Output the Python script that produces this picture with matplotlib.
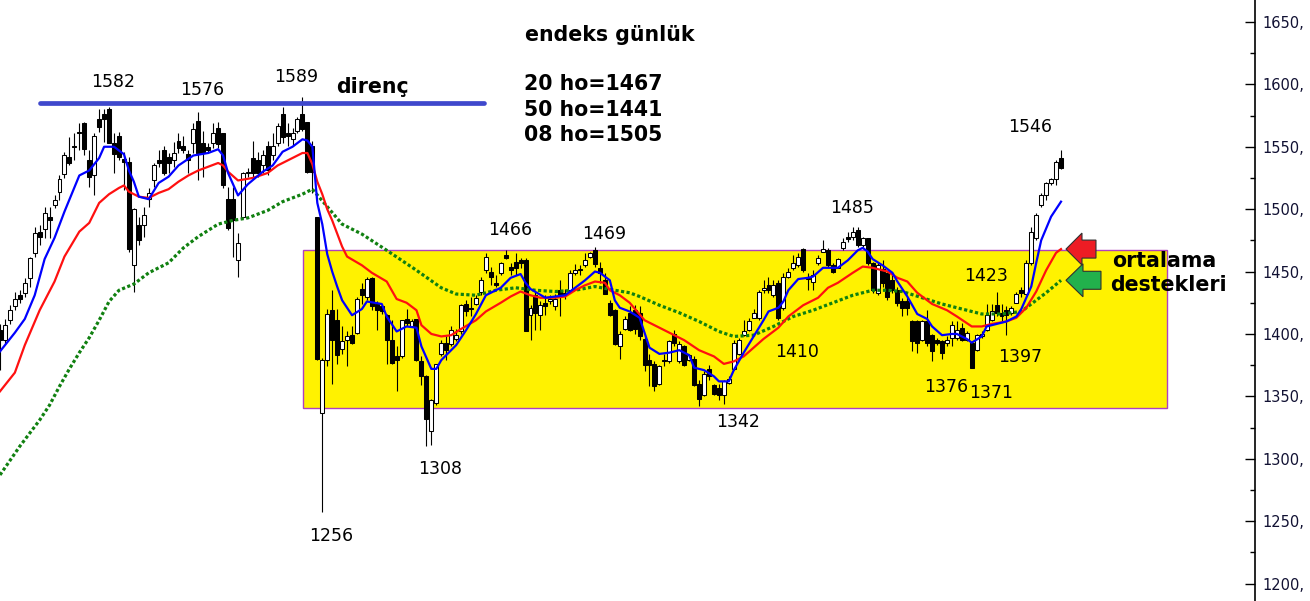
import numpy as np
import matplotlib
matplotlib.use("Agg")
import matplotlib.pyplot as plt
from matplotlib.patches import Rectangle, Polygon
from matplotlib.ticker import MultipleLocator, FuncFormatter
from matplotlib.transforms import Affine2D, ScaledTranslation

plt.rcParams["font.family"] = "DejaVu Sans"

# daily candles
opens = [1403, 1395, 1411, 1422, 1431, 1433, 1445, 1465, 1482, 1484,
         1494, 1503, 1514, 1528, 1542, 1551, 1562, 1569, 1539, 1527,
         1572, 1576, 1580, 1553, 1559, 1540, 1538, 1455, 1487, 1487,
         1508, 1523, 1539, 1547, 1542, 1539, 1555, 1551, 1544, 1553,
         1571, 1553, 1550, 1553, 1565, 1561, 1508, 1508, 1459, 1494,
         1529, 1541, 1539, 1535, 1551, 1543, 1553, 1576, 1561, 1556,
         1563, 1576, 1570, 1551, 1494, 1337, 1379, 1419, 1411, 1388,
         1395, 1399, 1401, 1436, 1430, 1445, 1424, 1422, 1415, 1395,
         1382, 1382, 1412, 1406, 1412, 1378, 1366, 1322, 1345, 1384,
         1393, 1392, 1396, 1402, 1424, 1421, 1424, 1434, 1451, 1450,
         1441, 1449, 1463, 1454, 1458, 1459, 1459, 1415, 1431, 1415,
         1425, 1426, 1422, 1435, 1433, 1435, 1449, 1452, 1455, 1462,
         1467, 1453, 1443, 1425, 1419, 1390, 1404, 1417, 1419, 1417,
         1396, 1379, 1376, 1360, 1379, 1378, 1400, 1378, 1390, 1379,
         1380, 1360, 1351, 1372, 1359, 1357, 1351, 1361, 1372, 1384,
         1399, 1403, 1413, 1413, 1435, 1439, 1431, 1441, 1421, 1446,
         1453, 1455, 1468, 1445, 1442, 1457, 1466, 1467, 1455, 1453,
         1469, 1478, 1478, 1483, 1471, 1477, 1457, 1433, 1452, 1449,
         1443, 1435, 1426, 1426, 1410, 1410, 1395, 1410, 1399, 1395,
         1394, 1393, 1397, 1397, 1405, 1395, 1393, 1387, 1398, 1403,
         1411, 1423, 1417, 1419, 1417, 1425, 1435, 1432, 1457, 1477,
         1503, 1511, 1521, 1524, 1541]
highs = [1408, 1412, 1423, 1434, 1435, 1445, 1462, 1486, 1487, 1502,
         1502, 1511, 1527, 1546, 1558, 1561, 1569, 1570, 1547, 1561,
         1580, 1580, 1582, 1561, 1562, 1546, 1542, 1501, 1494, 1502,
         1517, 1537, 1547, 1551, 1545, 1554, 1561, 1559, 1547, 1569,
         1578, 1563, 1553, 1569, 1570, 1561, 1518, 1518, 1481, 1530,
         1533, 1555, 1546, 1547, 1555, 1561, 1569, 1582, 1569, 1565,
         1574, 1590, 1570, 1555, 1494, 1381, 1420, 1435, 1420, 1406,
         1402, 1406, 1430, 1441, 1446, 1446, 1426, 1424, 1416, 1411,
         1390, 1411, 1420, 1412, 1412, 1382, 1367, 1348, 1376, 1395,
         1398, 1406, 1404, 1424, 1427, 1430, 1431, 1446, 1465, 1454,
         1447, 1458, 1467, 1457, 1465, 1461, 1461, 1423, 1434, 1426,
         1431, 1431, 1432, 1443, 1436, 1451, 1456, 1455, 1465, 1466,
         1470, 1458, 1449, 1427, 1420, 1402, 1414, 1422, 1423, 1422,
         1399, 1384, 1378, 1375, 1384, 1395, 1403, 1394, 1391, 1384,
         1382, 1363, 1370, 1375, 1360, 1360, 1363, 1366, 1395, 1397,
         1411, 1413, 1420, 1435, 1443, 1446, 1443, 1443, 1449, 1453,
         1463, 1465, 1469, 1449, 1451, 1463, 1475, 1469, 1457, 1461,
         1477, 1482, 1486, 1486, 1478, 1477, 1458, 1457, 1459, 1450,
         1449, 1438, 1429, 1430, 1411, 1411, 1411, 1419, 1400, 1397,
         1395, 1398, 1410, 1410, 1409, 1402, 1394, 1400, 1402, 1424,
         1424, 1434, 1424, 1422, 1422, 1434, 1438, 1459, 1486, 1497,
         1513, 1522, 1525, 1539, 1547]
lows = [1371, 1392, 1408, 1419, 1425, 1430, 1438, 1462, 1471, 1477,
        1477, 1501, 1507, 1525, 1535, 1539, 1547, 1543, 1518, 1511,
        1562, 1554, 1553, 1529, 1539, 1515, 1466, 1434, 1471, 1478,
        1502, 1518, 1534, 1527, 1529, 1534, 1545, 1545, 1529, 1545,
        1523, 1526, 1545, 1549, 1549, 1517, 1483, 1462, 1446, 1493,
        1526, 1526, 1526, 1529, 1527, 1539, 1551, 1553, 1551, 1551,
        1561, 1563, 1529, 1513, 1379, 1257, 1374, 1360, 1376, 1384,
        1374, 1392, 1400, 1424, 1427, 1419, 1403, 1416, 1376, 1376,
        1354, 1381, 1406, 1406, 1378, 1359, 1310, 1311, 1343, 1382,
        1379, 1390, 1394, 1400, 1414, 1414, 1423, 1431, 1449, 1439,
        1438, 1447, 1460, 1447, 1447, 1453, 1402, 1395, 1403, 1403,
        1415, 1424, 1419, 1414, 1428, 1434, 1447, 1447, 1454, 1461,
        1454, 1441, 1432, 1414, 1391, 1380, 1403, 1402, 1400, 1395,
        1370, 1358, 1354, 1359, 1374, 1377, 1390, 1377, 1374, 1378,
        1358, 1342, 1350, 1363, 1351, 1347, 1344, 1360, 1371, 1383,
        1398, 1402, 1413, 1411, 1433, 1433, 1430, 1411, 1419, 1445,
        1451, 1454, 1450, 1435, 1435, 1455, 1466, 1454, 1449, 1453,
        1467, 1474, 1475, 1470, 1470, 1455, 1433, 1431, 1438, 1427,
        1433, 1422, 1414, 1415, 1386, 1385, 1394, 1390, 1378, 1391,
        1380, 1390, 1390, 1395, 1394, 1394, 1373, 1386, 1397, 1402,
        1410, 1414, 1410, 1399, 1415, 1425, 1430, 1431, 1455, 1475,
        1502, 1507, 1519, 1519, 1532]
closes = [1395, 1407, 1419, 1428, 1428, 1441, 1461, 1481, 1478, 1497,
          1491, 1507, 1524, 1543, 1537, 1550, 1561, 1548, 1526, 1559,
          1566, 1572, 1553, 1544, 1542, 1538, 1468, 1500, 1475, 1495,
          1513, 1535, 1537, 1529, 1537, 1545, 1549, 1547, 1539, 1564,
          1545, 1545, 1547, 1561, 1552, 1519, 1485, 1491, 1473, 1529,
          1530, 1529, 1529, 1543, 1531, 1551, 1567, 1558, 1559, 1561,
          1572, 1564, 1530, 1530, 1380, 1379, 1416, 1395, 1383, 1394,
          1398, 1393, 1428, 1431, 1444, 1422, 1419, 1418, 1395, 1377,
          1379, 1411, 1409, 1410, 1379, 1366, 1332, 1347, 1376, 1393,
          1387, 1403, 1399, 1423, 1418, 1420, 1429, 1443, 1462, 1446,
          1439, 1457, 1461, 1451, 1453, 1457, 1402, 1421, 1417, 1423,
          1422, 1428, 1428, 1431, 1431, 1449, 1451, 1451, 1459, 1465,
          1456, 1449, 1432, 1415, 1392, 1400, 1412, 1403, 1404, 1398,
          1375, 1375, 1358, 1374, 1378, 1394, 1393, 1392, 1375, 1383,
          1359, 1348, 1368, 1366, 1352, 1351, 1362, 1364, 1393, 1395,
          1402, 1410, 1417, 1434, 1437, 1435, 1439, 1413, 1446, 1450,
          1457, 1462, 1451, 1444, 1447, 1461, 1468, 1455, 1450, 1460,
          1474, 1476, 1482, 1471, 1477, 1457, 1435, 1455, 1441, 1430,
          1435, 1425, 1421, 1421, 1394, 1393, 1410, 1393, 1386, 1393,
          1385, 1395, 1407, 1403, 1395, 1401, 1373, 1399, 1400, 1415,
          1418, 1417, 1414, 1415, 1421, 1432, 1433, 1457, 1482, 1495,
          1511, 1521, 1524, 1538, 1533]

# moving averages as drawn on the chart (bar index, level)
ma8_idx = [0, 3, 5, 7, 9, 11, 13, 16, 18, 20, 21, 23, 25, 26, 27, 28, 30, 32, 34, 36,
           39, 42, 44, 45, 46, 48, 50, 53, 55, 57, 59, 61, 62, 63, 64, 65, 66, 67, 68, 69,
           71, 73, 74, 77, 78, 80, 82, 84, 85, 87, 88, 89, 92, 94, 96, 98, 101, 103, 105, 106,
           107, 110, 112, 114, 116, 118, 120, 121, 123, 124, 125, 127, 129, 130, 131, 133, 135, 137, 139, 140,
           142, 144, 145, 147, 148, 150, 152, 154, 155, 157, 158, 159, 161, 163, 164, 166, 169, 171, 173, 174,
           175, 176, 178, 180, 181, 183, 185, 187, 188, 190, 192, 193, 195, 196, 198, 199, 201, 203, 205, 206,
           208, 209, 210, 212, 214]
ma8_val = [1386, 1401, 1412, 1431, 1460, 1477, 1498, 1527, 1531, 1541, 1550, 1550, 1544, 1531, 1522, 1510, 1508, 1521, 1526, 1535,
           1543, 1545, 1548, 1543, 1529, 1511, 1520, 1530, 1535, 1546, 1550, 1556, 1555, 1550, 1505, 1488, 1464, 1450, 1438, 1427,
           1415, 1420, 1426, 1424, 1414, 1402, 1406, 1405, 1390, 1372, 1372, 1379, 1391, 1403, 1416, 1431, 1437, 1445, 1448, 1441,
           1436, 1429, 1430, 1431, 1437, 1443, 1450, 1449, 1443, 1427, 1421, 1418, 1413, 1401, 1389, 1384, 1385, 1387, 1383, 1373,
           1371, 1366, 1362, 1362, 1371, 1385, 1398, 1411, 1418, 1421, 1426, 1435, 1444, 1445, 1446, 1453, 1453, 1459, 1467, 1469,
           1466, 1460, 1455, 1449, 1442, 1430, 1416, 1412, 1406, 1399, 1400, 1400, 1396, 1393, 1398, 1406, 1408, 1410, 1414, 1420,
           1438, 1457, 1475, 1494, 1506]
ma20_idx = [0, 3, 5, 8, 11, 13, 16, 18, 20, 22, 24, 25, 26, 28, 30, 32, 34, 36, 38, 40,
            42, 44, 45, 46, 48, 51, 54, 56, 59, 61, 62, 63, 64, 65, 66, 67, 69, 70, 73, 75,
            78, 80, 82, 84, 85, 87, 89, 91, 93, 96, 98, 101, 103, 105, 107, 109, 112, 114, 116, 118,
            120, 122, 123, 125, 127, 130, 133, 136, 138, 141, 144, 146, 148, 150, 152, 154, 157, 159, 162, 165,
            167, 169, 172, 174, 176, 179, 181, 183, 185, 188, 191, 193, 196, 198, 200, 203, 205, 207, 209, 211,
            213, 214]
ma20_val = [1354, 1369, 1391, 1419, 1442, 1462, 1482, 1489, 1505, 1512, 1517, 1519, 1514, 1510, 1509, 1513, 1516, 1522, 1527, 1531,
            1534, 1537, 1535, 1530, 1523, 1525, 1529, 1535, 1541, 1545, 1545, 1536, 1522, 1512, 1500, 1491, 1470, 1462, 1455, 1449,
            1442, 1428, 1425, 1419, 1407, 1400, 1398, 1399, 1404, 1411, 1418, 1425, 1430, 1434, 1431, 1429, 1429, 1430, 1435, 1439,
            1442, 1441, 1435, 1431, 1425, 1411, 1405, 1399, 1395, 1387, 1382, 1376, 1378, 1382, 1389, 1396, 1405, 1414, 1423, 1429,
            1437, 1441, 1449, 1454, 1453, 1450, 1445, 1442, 1433, 1424, 1419, 1414, 1406, 1406, 1408, 1410, 1413, 1421, 1434, 1451,
            1465, 1468]
ma50_idx = [0, 4, 8, 10, 12, 14, 16, 18, 20, 22, 24, 27, 30, 34, 37, 40, 44, 47, 50, 54,
            57, 61, 63, 66, 69, 73, 78, 84, 89, 92, 96, 100, 104, 108, 112, 116, 120, 124, 127, 129,
            133, 137, 141, 145, 148, 152, 156, 160, 164, 168, 172, 176, 179, 182, 186, 190, 194, 198, 202, 206,
            208, 211, 214]
ma50_val = [1287, 1310, 1331, 1343, 1358, 1372, 1385, 1397, 1411, 1426, 1435, 1440, 1449, 1457, 1469, 1478, 1488, 1491, 1493, 1499,
            1506, 1512, 1516, 1502, 1488, 1480, 1467, 1451, 1437, 1432, 1431, 1435, 1437, 1435, 1434, 1435, 1438, 1435, 1433, 1430,
            1423, 1417, 1410, 1402, 1398, 1399, 1406, 1414, 1419, 1425, 1431, 1435, 1435, 1434, 1429, 1424, 1420, 1416, 1416, 1418,
            1424, 1433, 1443]

# annotation levels
RESIST = 1585
RESIST_SPAN = (8.1, 97.6)
BOX_X = (61.1, 235.4)
BOX_Y = (1341, 1467)

peak_labels = [("1582", 113, 87), ("1576", 202, 95), ("1589", 296, 82),
               ("1466", 510, 235), ("1469", 604, 239), ("1485", 852, 213),
               ("1546", 1030, 132), ("1423", 986, 281), ("1410", 797, 357),
               ("1397", 1020, 362), ("1376", 946, 392), ("1371", 991, 398),
               ("1342", 738, 427), ("1308", 440, 474), ("1256", 331, 541)]

W, H = 1310, 601
PX_PER_BAR = 4.958
AX_RIGHT = 1255

fig = plt.figure(figsize=(W / 100, H / 100), dpi=100)
ax = fig.add_axes([0, 0, AX_RIGHT / W, 1])
ax.set_xlim(0, AX_RIGHT / PX_PER_BAR)
ax.set_ylim(1186, 1667.6)

for s in ["top", "left", "bottom"]:
    ax.spines[s].set_visible(False)
ax.spines["right"].set_linewidth(1.2)
ax.set_xticks([])
ax.yaxis.tick_right()
ax.yaxis.set_major_locator(MultipleLocator(50))
ax.yaxis.set_minor_locator(MultipleLocator(25))
ax.yaxis.set_major_formatter(FuncFormatter(lambda v, p: f"{v:.0f},"))
ax.tick_params(axis="y", which="major", direction="in", length=7, width=1, pad=5,
               labelsize=10.5, labelcolor="#111133")
ax.tick_params(axis="y", which="minor", direction="in", length=3.5, width=1)

# support / resistance box
ax.add_patch(Rectangle((BOX_X[0], BOX_Y[0]), BOX_X[1] - BOX_X[0], BOX_Y[1] - BOX_Y[0],
                       facecolor="#fff200", edgecolor="#b040c0", linewidth=1, zorder=0.5))

# candles
o, h, l, c = map(np.array, (opens, highs, lows, closes))
x = np.arange(len(o))
ax.vlines(x, l, h, color="black", linewidth=0.8, zorder=2)
body_lo = np.minimum(o, c)
body_h = np.maximum(np.abs(c - o), 0.8)
ax.bar(x, body_h, bottom=body_lo, width=0.8,
       color=np.where(c >= o, "white", "black"), edgecolor="black",
       linewidth=0.75, zorder=3)

# moving averages
ax.plot(ma50_idx, ma50_val, color="#108010", linewidth=2.3,
        linestyle=(0, (1, 0.75)), dash_capstyle="butt", zorder=4)
ax.plot(ma20_idx, ma20_val, color="#ff1010", linewidth=1.6, zorder=4)
ax.plot(ma8_idx, ma8_val, color="#0000ff", linewidth=1.6, zorder=4)

# resistance line
ax.plot(RESIST_SPAN, [RESIST, RESIST], color="#3f48cc", linewidth=3.4,
        solid_capstyle="round", zorder=5)

# arrows pointing at the MA ends (shape in pixels)
def arrow(xd, yd, head_len, head_half, shaft_half, total, fc):
    verts = [(0, 0), (head_len, head_half), (head_len, shaft_half), (total, shaft_half),
             (total, -shaft_half), (head_len, -shaft_half), (head_len, -head_half)]
    tr = Affine2D() + ScaledTranslation(xd, yd, ax.transData)
    ax.add_patch(Polygon(verts, closed=True, facecolor=fc, edgecolor="#303030",
                         linewidth=0.8, transform=tr, zorder=6, clip_on=False))

arrow(len(o), ma20_val[-1], 16, 16, 9, 30, "#ed1c24")
arrow(len(o), ma50_val[-1], 17, 16.5, 9, 35, "#22b14c")

def px(xp, yp):
    return xp / W, 1 - yp / H

for s, xp, yp in peak_labels:
    fig.text(*px(xp, yp), s, ha="center", va="baseline", fontsize=12.5)

bold = dict(fontsize=14.8, fontweight="bold", ha="left", va="baseline")
fig.text(*px(525, 41), "endeks günlük", **bold)
fig.text(*px(524, 90), "20 ho=1467", **bold)
fig.text(*px(524, 116), "50 ho=1441", **bold)
fig.text(*px(524, 141), "08 ho=1505", **bold)
fig.text(*px(336, 93), "direnç", **bold)
fig.text(*px(1112, 267), "ortalama", **bold)
fig.text(*px(1110, 291), "destekleri", **bold)

fig.savefig("out.png", dpi=100)
